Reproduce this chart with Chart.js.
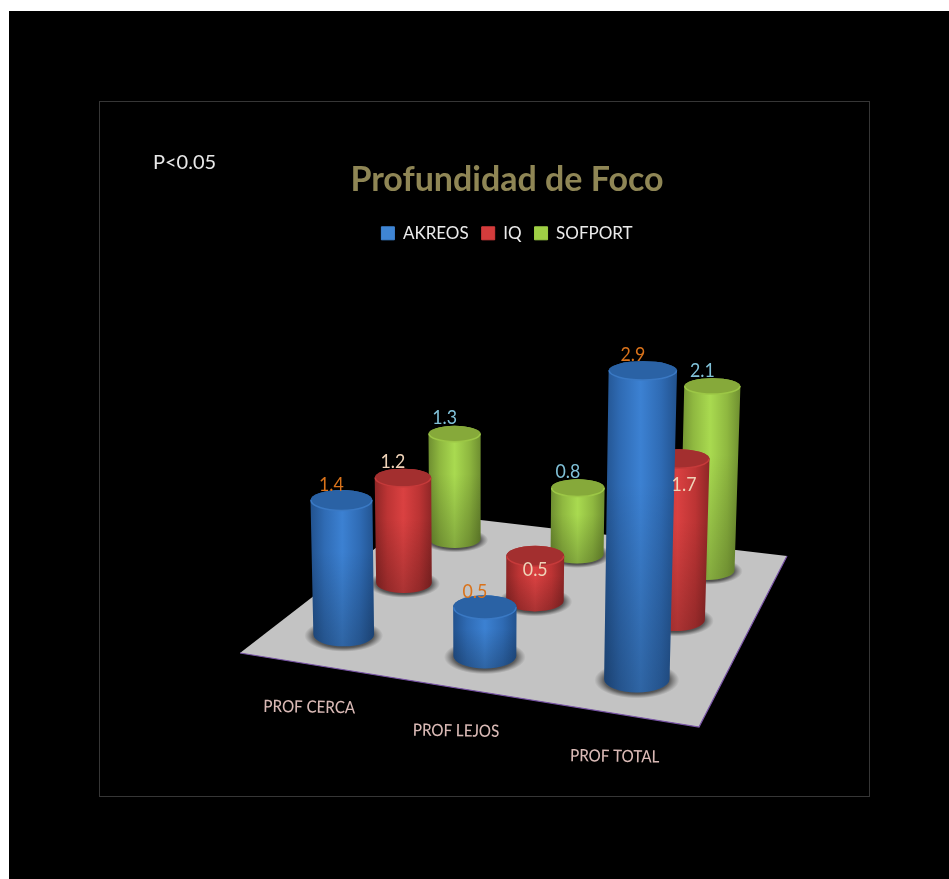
<!DOCTYPE html>
<html>
<head>
<meta charset="utf-8">
<title>Profundidad de Foco</title>
<style>
    html, body { margin: 0; padding: 0; background: #fff; }
    canvas { display: block; }
</style>
<script src="https://cdn.jsdelivr.net/npm/chart.js@4/dist/chart.umd.min.js"></script>
</head>
<body>
<canvas id="chart" width="949" height="879"></canvas>
<script>
const categories = ['PROF CERCA', 'PROF LEJOS', 'PROF TOTAL'];
const seriesNames = ['AKREOS', 'IQ', 'SOFPORT'];
const akreos = [1.4, 0.5, 2.9];
const iq = [1.2, 0.5, 1.7];
const sofport = [1.3, 0.8, 2.1];
const seriesValues = [akreos, iq, sofport];

const TEXT_FONT = 'Lato, "Open Sans", sans-serif';

const PALETTES = [
    { edge: '#22528e', mid: '#2f6bb4', light: '#3c81d2', top: '#2a62a5', rim: '#3a79c4', legend: '#3f85d4', label: '#d9721a' },
    { edge: '#8e2626', mid: '#bc3434', light: '#da4141', top: '#a32f2f', rim: '#c63a3a', legend: '#d43c3c', label: '#efd3b8' },
    { edge: '#6e8e30', mid: '#8fb840', light: '#a9da50', top: '#86a93a', rim: '#9cc746', legend: '#9fcf45', label: '#80c1d8' },
];

// floor quad in canvas units: front-left, front-right, back-right, back-left
const FLOOR = [[240, 653], [699, 727], [787, 556], [421, 513]];

// unit square -> floor quad
function buildFloorMap([[x0, y0], [x1, y1], [x2, y2], [x3, y3]]) {
    const dx1 = x1 - x2, dx2 = x3 - x2, sx = x0 - x1 + x2 - x3;
    const dy1 = y1 - y2, dy2 = y3 - y2, sy = y0 - y1 + y2 - y3;
    const det = dx1 * dy2 - dx2 * dy1;
    const g = (sx * dy2 - dx2 * sy) / det;
    const h = (dx1 * sy - sx * dy1) / det;
    const a = x1 - x0 + g * x1, b = x3 - x0 + h * x3;
    const d = y1 - y0 + g * y1, e = y3 - y0 + h * y3;
    return (s, t) => {
        const w = g * s + h * t + 1;
        return { x: (a * s + b * t + x0) / w, y: (d * s + e * t + y0) / w, w };
    };
}

const floorAt = buildFloorMap(FLOOR);

function cellBase(catIndex, seriesIndex) {
    return floorAt((catIndex + 0.5) / categories.length, (seriesIndex + 0.5) / seriesNames.length);
}

// upright columns converge slightly towards the bottom of the view
function columnTop(catIndex, seriesIndex, value) {
    const base = cellBase(catIndex, seriesIndex);
    const height = (96 / base.w) * (1 + 0.02 * value) * value;
    return { x: base.x + (base.x - 480) * 1.24e-4 * height, y: base.y - height };
}

const datasets = seriesNames.map((name, j) => ({
    label: name,
    data: seriesValues[j].map((v, i) => columnTop(i, j, v)),
    backgroundColor: PALETTES[j].legend,
    borderColor: PALETTES[j].legend,
    pointRadius: 0,
    pointHoverRadius: 0,
}));

function ellipseRatio(y) {
    return 0.12 + 0.00042 * y;
}

function drawFloorShadow(ctx, x, y, rx, ry) {
    ctx.save();
    ctx.translate(x, y + 1);
    ctx.scale(rx * 1.3, ry * 1.38);
    const shade = ctx.createRadialGradient(0, 0, 0.55, 0, 0, 1);
    shade.addColorStop(0, 'rgba(20,20,20,0.85)');
    shade.addColorStop(0.5, 'rgba(30,30,30,0.6)');
    shade.addColorStop(1, 'rgba(60,60,60,0)');
    ctx.fillStyle = shade;
    ctx.beginPath();
    ctx.arc(0, 0, 1, 0, Math.PI * 2);
    ctx.fill();
    ctx.restore();
}

function drawColumn(ctx, bottom, top, rBottom, rTop, colors) {
    const ryBottom = rBottom * ellipseRatio(bottom.y);
    const ryTop = rTop * ellipseRatio(top.y);

    drawFloorShadow(ctx, bottom.x, bottom.y, rBottom, ryBottom);

    const outline = () => {
        ctx.beginPath();
        ctx.moveTo(top.x - rTop, top.y);
        ctx.lineTo(bottom.x - rBottom, bottom.y);
        ctx.ellipse(bottom.x, bottom.y, rBottom, ryBottom, 0, Math.PI, 0, true);
        ctx.lineTo(top.x + rTop, top.y);
        ctx.ellipse(top.x, top.y, rTop, ryTop, 0, 0, Math.PI, true);
        ctx.closePath();
    };

    const left = Math.min(top.x - rTop, bottom.x - rBottom);
    const right = Math.max(top.x + rTop, bottom.x + rBottom);
    const body = ctx.createLinearGradient(left, 0, right, 0);
    body.addColorStop(0, colors.edge);
    body.addColorStop(0.22, colors.mid);
    body.addColorStop(0.5, colors.light);
    body.addColorStop(0.78, colors.mid);
    body.addColorStop(1, colors.edge);
    ctx.fillStyle = body;
    outline();
    ctx.fill();

    const falloff = ctx.createLinearGradient(0, top.y, 0, bottom.y + ryBottom);
    falloff.addColorStop(0, 'rgba(0,0,0,0)');
    falloff.addColorStop(0.35, 'rgba(0,0,0,0)');
    falloff.addColorStop(1, 'rgba(0,0,0,0.22)');
    ctx.fillStyle = falloff;
    outline();
    ctx.fill();

    // cap, with the lighter rim on its front edge
    ctx.fillStyle = colors.top;
    ctx.beginPath();
    ctx.ellipse(top.x, top.y, rTop, ryTop, 0, 0, Math.PI * 2);
    ctx.fill();
    ctx.strokeStyle = colors.rim;
    ctx.lineWidth = 1.5;
    ctx.beginPath();
    ctx.ellipse(top.x, top.y, rTop - 0.5, ryTop, 0, 0, Math.PI);
    ctx.stroke();
}

// narrowed text, the fallback faces run wider than the deck font
function drawNarrowText(ctx, text, x, y, angle = 0) {
    ctx.save();
    ctx.translate(x, y);
    ctx.rotate(angle);
    ctx.scale(0.89, 1);
    ctx.fillText(text, 0, 0);
    ctx.restore();
}

// labels of the shorter IQ columns sit on the column instead of above it
const LABEL_OFFSET = { x: -10, y: -16 };
const IQ_INSIDE_OFFSETS = [null, { x: 0, y: 14 }, { x: 5, y: 26 }];

const depthScene = {
    id: 'depthScene',
    // the axes are hidden, their units are kept equal to canvas pixels
    afterLayout(chart) {
        const { x, y } = chart.scales;
        x.min = chart.chartArea.left;
        y.min = chart.chartArea.top;
        x.configure();
        y.configure();
    },
    beforeDraw(chart) {
        const { ctx, width, height } = chart;
        ctx.save();
        ctx.fillStyle = '#fff';
        ctx.fillRect(0, 0, width, height);
        ctx.fillStyle = '#000';
        ctx.fillRect(9, 11, width - 9, height - 11);
        ctx.strokeStyle = '#363636';
        ctx.lineWidth = 1;
        ctx.strokeRect(99.5, 101.5, 770, 695);
        ctx.fillStyle = '#e8e8e8';
        ctx.font = `20px ${TEXT_FONT}`;
        ctx.textAlign = 'left';
        ctx.textBaseline = 'middle';
        ctx.fillText('P<0.05', 153, 163);
        ctx.restore();
    },
    beforeDatasetsDraw(chart) {
        const { ctx, scales: { x, y } } = chart;
        const corners = FLOOR.map(([fx, fy]) => [x.getPixelForValue(fx), y.getPixelForValue(fy)]);
        ctx.save();
        ctx.fillStyle = '#c3c3c3';
        ctx.beginPath();
        corners.forEach(([px, py], i) => (i ? ctx.lineTo(px, py) : ctx.moveTo(px, py)));
        ctx.closePath();
        ctx.fill();
        // thin purple lip along the front and right edges
        ctx.strokeStyle = '#7a55a8';
        ctx.lineWidth = 1.2;
        ctx.beginPath();
        ctx.moveTo(...corners[0]);
        ctx.lineTo(...corners[1]);
        ctx.lineTo(...corners[2]);
        ctx.stroke();
        ctx.restore();

        ctx.save();
        ctx.fillStyle = '#d9b9b5';
        ctx.font = `500 17px ${TEXT_FONT}`;
        ctx.textAlign = 'center';
        ctx.textBaseline = 'middle';
        categories.forEach((name, i) => {
            const edge = floorAt((i + 0.5) / categories.length, 0);
            drawNarrowText(ctx, name, x.getPixelForValue(edge.x), y.getPixelForValue(edge.y + 43), 0.015);
        });
        ctx.restore();
    },
    afterDatasetsDraw(chart) {
        const { ctx, scales: { x, y } } = chart;
        const columns = [];
        chart.data.datasets.forEach((ds, j) => {
            chart.getDatasetMeta(j).data.forEach((el, i) => {
                const base = cellBase(i, j);
                columns.push({ i, j, base, top: { x: el.x, y: el.y } });
            });
        });
        // painter's order, back of the floor first
        columns.sort((a, b) => a.base.y - b.base.y);

        ctx.save();
        columns.forEach(({ j, base, top }) => {
            const bottom = { x: x.getPixelForValue(base.x), y: y.getPixelForValue(base.y) };
            const rBottom = 31.2 / base.w;
            const rTop = rBottom * (1 + (bottom.y - top.y) * 1.5e-4);
            drawColumn(ctx, bottom, top, rBottom, rTop, PALETTES[j]);
        });

        ctx.font = `20px ${TEXT_FONT}`;
        ctx.textAlign = 'center';
        ctx.textBaseline = 'middle';
        columns.forEach(({ i, j, top }) => {
            const offset = (j === 1 && IQ_INSIDE_OFFSETS[i]) || LABEL_OFFSET;
            ctx.fillStyle = PALETTES[j].label;
            drawNarrowText(ctx, seriesValues[j][i].toFixed(1), top.x + offset.x, top.y + offset.y);
        });
        ctx.restore();
    },
};

new Chart(document.getElementById('chart'), {
    type: 'scatter',
    data: { datasets },
    options: {
        responsive: false,
        animation: false,
        events: [],
        layout: { padding: { left: 65, top: 160 } },
        scales: {
            x: { type: 'linear', display: false, min: 0, max: 949 },
            y: { type: 'linear', display: false, reverse: true, min: 0, max: 879 },
        },
        plugins: {
            title: {
                display: true,
                text: 'Profundidad de Foco',
                color: '#8f8655',
                font: { family: TEXT_FONT, size: 34, weight: 'bold' },
                padding: { top: 0, bottom: 11 },
            },
            legend: {
                display: true,
                position: 'top',
                labels: {
                    color: '#ececec',
                    font: { family: TEXT_FONT, size: 17 },
                    boxWidth: 13,
                    boxHeight: 13,
                    padding: 13,
                },
            },
            tooltip: { enabled: false },
        },
    },
    plugins: [depthScene],
});
</script>
</body>
</html>
